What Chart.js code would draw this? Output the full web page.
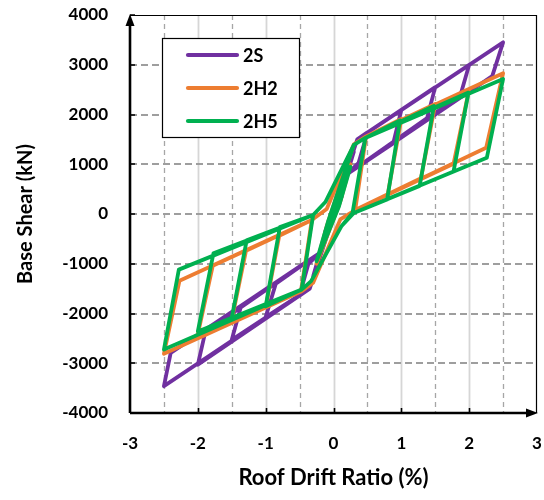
<!DOCTYPE html>
<html>
<head>
<meta charset="utf-8">
<script src="https://cdn.jsdelivr.net/npm/chart.js@4.4.1/dist/chart.umd.min.js"></script>
<style>
  html, body { margin: 0; padding: 0; background: #fff; }
  canvas { display: block; }
</style>
</head>
<body>
<canvas id="chart" width="544" height="500"></canvas>
<script>
// hysteresis paths, one point per corner
const seriesNames = ['2S', '2H2', '2H5'];
const seriesColors = ['#7030A0', '#ED7D31', '#00B050'];

const drift2S = [
  0, 0.15, 0.12, -0.15, -0.12, 0.3, 0.2, -0.3, -0.2,
  0.35, 0.5, 0.37, 0.2, -0.35, -0.5, -0.37, -0.2,
  0.35, 1.0, 0.88, 0.2, -0.35, -1.0, -0.85, -0.2,
  0.35, 1.5, 1.38, 0.2, -0.35, -1.5, -1.36, -0.2,
  0.35, 2.0, 1.87, 0.2, -0.35, -2.0, -1.89, -0.2,
  0.35, 2.5, 2.34, 0.2, -0.35, -2.5, -2.4, -0.2,
];
const shear2S = [
  0, 600, 350, -600, -350, 1250, 800, -1250, -780,
  1500, 1640, 1030, 800, -1500, -1640, -1000, -780,
  1500, 2090, 1420, 800, -1500, -2070, -1400, -780,
  1500, 2550, 1930, 800, -1500, -2530, -1840, -780,
  1500, 3000, 2380, 800, -1500, -3030, -2370, -780,
  1500, 3450, 2770, 800, -1500, -3460, -2790, -780,
];

const drift2H2 = [
  0, 0.15, 0.05, -0.15, -0.05, 0.25, 0.1, -0.25, -0.1,
  0.3, 0.48, 0.32, 0.1, -0.3, -0.48, -0.32, -0.1,
  0.3, 0.48, 1.0, 0.8, 0.32, 0.1, -0.3, -0.48, -1.0, -0.8, -0.32, -0.1,
  0.3, 0.48, 1.5, 1.29, 0.32, 0.1, -0.3, -0.48, -1.5, -1.29, -0.32, -0.1,
  0.3, 0.48, 2.0, 1.77, 0.32, 0.1, -0.3, -0.48, -2.0, -1.78, -0.32, -0.1,
  0.3, 0.48, 2.5, 2.25, 0.32, 0.1, -0.3, -0.48, -2.5, -2.27, -0.32, -0.1,
];
const shear2H2 = [
  0, 550, 100, -550, -100, 1000, 250, -1000, -250,
  1400, 1560, 80, -110, -1380, -1560, -120, 100,
  1400, 1560, 1910, 400, 80, -110, -1380, -1560, -1880, -440, -120, 100,
  1400, 1560, 2210, 720, 80, -110, -1380, -1560, -2130, -740, -120, 100,
  1400, 1560, 2510, 1010, 80, -110, -1380, -1560, -2420, -1040, -120, 100,
  1400, 1560, 2830, 1330, 80, -110, -1380, -1560, -2810, -1340, -120, 100,
];

const drift2H5 = [
  0, 0.15, 0.05, -0.15, -0.05, 0.25, 0.08, -0.25, -0.08,
  0.3, 0.47, 0.28, 0.12, -0.33, -0.47, -0.3, -0.12,
  0.3, 0.47, 0.98, 0.79, 0.3, 0.12, -0.33, -0.47, -1.0, -0.79, -0.3, -0.12,
  0.3, 0.47, 1.48, 1.27, 0.3, 0.12, -0.33, -0.47, -1.5, -1.28, -0.3, -0.12,
  0.3, 0.47, 1.99, 1.77, 0.3, 0.12, -0.33, -0.47, -2.0, -1.77, -0.3, -0.12,
  0.3, 0.47, 2.5, 2.26, 0.3, 0.12, -0.33, -0.47, -2.5, -2.28, -0.3, -0.12,
];
const shear2H5 = [
  0, 500, 80, -500, -80, 950, 150, -950, -150,
  1390, 1530, 20, -240, -1350, -1520, -20, 240,
  1390, 1530, 1880, 290, 20, -240, -1350, -1520, -1855, -260, -20, 240,
  1390, 1530, 2170, 565, 20, -240, -1350, -1520, -2090, -530, -20, 240,
  1390, 1530, 2440, 855, 20, -240, -1350, -1520, -2360, -790, -20, 240,
  1390, 1530, 2715, 1130, 20, -240, -1350, -1520, -2725, -1118, -20, 240,
];

const xMajorTicks = [-2, -1, 0, 1, 2];
const xHalfTicks = [-2.5, -1.5, -0.5, 0.5, 1.5, 2.5];
const yMajorTicks = [-3000, -2000, -1000, 0, 1000, 2000, 3000];

const FONT = 'Lato, "Open Sans", sans-serif';

function toPoints(xs, ys) {
  return xs.map((x, i) => ({ x: x, y: ys[i] }));
}

function makeDataset(i, xs, ys) {
  return {
    label: seriesNames[i],
    data: toPoints(xs, ys),
    showLine: true,
    borderColor: seriesColors[i],
    backgroundColor: seriesColors[i],
    borderWidth: 3.8,
    borderJoinStyle: 'round',
    borderCapStyle: 'round',
    pointRadius: 0,
    tension: 0,
    order: 3 - i,
  };
}

// keep the plot box where the reference has it: no extra room for edge labels
function fixBox(size) {
  return (scale) => {
    if (scale.isHorizontal()) scale.height = size;
    else scale.width = size;
    scale.paddingTop = 0;
    scale.paddingBottom = 0;
    scale.paddingLeft = 0;
    scale.paddingRight = 0;
  };
}

const framePlugin = {
  id: 'frame',
  beforeDatasetsDraw(chart) {
    const { ctx, chartArea: a, scales: { x, y } } = chart;
    ctx.save();
    // light solid verticals at whole percents
    ctx.strokeStyle = '#d6d6d6';
    ctx.lineWidth = 1.8;
    xMajorTicks.forEach((v) => {
      const px = Math.round(x.getPixelForValue(v)) + 0.5;
      ctx.beginPath();
      ctx.moveTo(px, a.top);
      ctx.lineTo(px, a.bottom);
      ctx.stroke();
    });
    // dashed verticals at half percents
    ctx.strokeStyle = '#a6a6a6';
    ctx.lineWidth = 1.3;
    ctx.setLineDash([5, 4]);
    xHalfTicks.forEach((v) => {
      const px = Math.round(x.getPixelForValue(v)) + 0.5;
      ctx.beginPath();
      ctx.moveTo(px, a.top);
      ctx.lineTo(px, a.bottom);
      ctx.stroke();
    });
    // dashed horizontals
    ctx.strokeStyle = '#9e9e9e';
    ctx.lineWidth = 1.8;
    ctx.setLineDash([7, 4]);
    yMajorTicks.forEach((v) => {
      const py = Math.round(y.getPixelForValue(v));
      ctx.beginPath();
      ctx.moveTo(a.left, py);
      ctx.lineTo(a.right, py);
      ctx.stroke();
    });
    ctx.restore();
  },
  afterDatasetsDraw(chart) {
    const { ctx, chartArea: a, scales: { x, y } } = chart;
    ctx.save();
    // thin top and right border
    ctx.strokeStyle = '#000';
    ctx.lineWidth = 1.2;
    ctx.beginPath();
    ctx.moveTo(a.left, a.top + 0.5);
    ctx.lineTo(a.right - 0.5, a.top + 0.5);
    ctx.lineTo(a.right - 0.5, a.bottom);
    ctx.stroke();

    // thick axes
    ctx.lineWidth = 2.6;
    ctx.beginPath();
    ctx.moveTo(a.left, a.bottom);
    ctx.lineTo(a.left, a.top + 8);
    ctx.moveTo(a.left, a.bottom);
    ctx.lineTo(a.right - 6, a.bottom);
    ctx.stroke();

    // arrow heads
    ctx.fillStyle = '#000';
    ctx.beginPath();
    ctx.moveTo(a.left, a.top - 1);
    ctx.lineTo(a.left - 4.5, a.top + 11);
    ctx.lineTo(a.left + 4.5, a.top + 11);
    ctx.closePath();
    ctx.fill();
    ctx.beginPath();
    ctx.moveTo(a.right + 1, a.bottom);
    ctx.lineTo(a.right - 11, a.bottom - 4.5);
    ctx.lineTo(a.right - 11, a.bottom + 4.5);
    ctx.closePath();
    ctx.fill();

    // inner tick marks
    ctx.lineWidth = 1.6;
    ctx.beginPath();
    xMajorTicks.forEach((v) => {
      const px = Math.round(x.getPixelForValue(v)) + 0.5;
      ctx.moveTo(px, a.bottom);
      ctx.lineTo(px, a.bottom - 5);
    });
    [...yMajorTicks, 4000].forEach((v) => {
      const py = Math.round(y.getPixelForValue(v));
      ctx.moveTo(a.left, py);
      ctx.lineTo(a.left + 5, py);
    });
    ctx.stroke();

    // legend box
    const bx = 162.5, by = 38.5, bw = 137, bh = 99;
    ctx.fillStyle = '#fff';
    ctx.fillRect(bx, by, bw, bh);
    ctx.strokeStyle = '#000';
    ctx.lineWidth = 1.2;
    ctx.strokeRect(bx, by, bw, bh);
    ctx.font = 'bold 18px ' + FONT;
    ctx.textBaseline = 'middle';
    ctx.textAlign = 'left';
    chart.data.datasets.forEach((ds, i) => {
      const ly = 55 + i * 33;
      ctx.strokeStyle = ds.borderColor;
      ctx.lineWidth = 4.2;
      ctx.lineCap = 'round';
      ctx.beginPath();
      ctx.moveTo(188, ly);
      ctx.lineTo(237, ly);
      ctx.stroke();
      ctx.fillStyle = '#000';
      ctx.fillText(ds.label, 243, ly + 1);
    });
    ctx.restore();
  },
};

new Chart(document.getElementById('chart'), {
  type: 'scatter',
  data: {
    datasets: [
      makeDataset(0, drift2S, shear2S),
      makeDataset(1, drift2H2, shear2H2),
      makeDataset(2, drift2H5, shear2H5),
    ],
  },
  options: {
    responsive: false,
    animation: false,
    devicePixelRatio: 1,
    layout: { padding: { top: 15, right: 7, left: 0, bottom: 0 } },
    plugins: {
      legend: { display: false },
      tooltip: { enabled: false },
    },
    scales: {
      x: {
        type: 'linear',
        min: -3,
        max: 3,
        grid: { display: false, drawTicks: false },
        border: { display: false },
        ticks: {
          stepSize: 1,
          autoSkip: false,
          padding: 20,
          color: '#000',
          font: { family: FONT, size: 17, weight: 'bold' },
          callback: (v) => String(v),
        },
        title: {
          display: true,
          text: 'Roof Drift Ratio (%)',
          color: '#000',
          font: { family: FONT, size: 22, weight: 'bold' },
          padding: { top: 0, bottom: 9 },
        },
        afterFit: fixBox(87),
      },
      y: {
        type: 'linear',
        min: -4000,
        max: 4000,
        grid: { display: false, drawTicks: false },
        border: { display: false },
        ticks: {
          stepSize: 1000,
          autoSkip: false,
          padding: 22,
          color: '#000',
          font: { family: FONT, size: 17, weight: 'bold' },
          callback: (v) => String(v),
        },
        title: {
          display: true,
          text: 'Base Shear (kN)',
          color: '#000',
          font: { family: FONT, size: 20, weight: 'bold' },
          padding: { top: 14, bottom: 0 },
        },
        afterFit: fixBox(130),
      },
    },
  },
  plugins: [framePlugin],
});
</script>
</body>
</html>
